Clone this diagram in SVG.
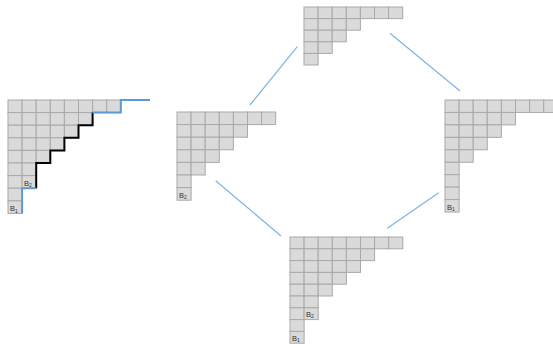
<svg xmlns="http://www.w3.org/2000/svg" width="553" height="344" viewBox="0 0 553 344">
<style>
.c{fill:#dadada;stroke:#a9a9a9;stroke-width:1}
.lbl{font-family:"Liberation Sans",Arial,sans-serif;font-size:7.5px;fill:#333}
.sub{font-size:5px}
.conn{stroke:#7eb3e3;stroke-width:1.2;fill:none}
.bl{stroke:#5b9bd5;stroke-width:2;fill:none}
.bk{stroke:#000;stroke-width:2;fill:none}
</style>
<rect width="553" height="344" fill="#fff"/>
<g id="connectors">
<line class="conn" x1="250" y1="105" x2="297.3" y2="46.7"/>
<line class="conn" x1="390" y1="33.3" x2="460" y2="91"/>
<line class="conn" x1="215.7" y1="180.7" x2="281" y2="236"/>
<line class="conn" x1="387.3" y1="228.3" x2="438.7" y2="192.7"/>
</g>
<g id="top">
<rect class="c" x="304" y="7" width="14.1" height="11.6"/><rect class="c" x="318.1" y="7" width="14.1" height="11.6"/><rect class="c" x="332.2" y="7" width="14.1" height="11.6"/><rect class="c" x="346.3" y="7" width="14.1" height="11.6"/><rect class="c" x="360.4" y="7" width="14.1" height="11.6"/><rect class="c" x="374.5" y="7" width="14.1" height="11.6"/><rect class="c" x="388.6" y="7" width="14.1" height="11.6"/>
<rect class="c" x="304" y="18.6" width="14.1" height="11.6"/><rect class="c" x="318.1" y="18.6" width="14.1" height="11.6"/><rect class="c" x="332.2" y="18.6" width="14.1" height="11.6"/><rect class="c" x="346.3" y="18.6" width="14.1" height="11.6"/>
<rect class="c" x="304" y="30.2" width="14.1" height="11.6"/><rect class="c" x="318.1" y="30.2" width="14.1" height="11.6"/><rect class="c" x="332.2" y="30.2" width="14.1" height="11.6"/>
<rect class="c" x="304" y="41.8" width="14.1" height="11.6"/><rect class="c" x="318.1" y="41.8" width="14.1" height="11.6"/>
<rect class="c" x="304" y="53.4" width="14.1" height="11.6"/>
</g>
<g id="left">
<rect class="c" x="8" y="100" width="14.1" height="12.6"/><rect class="c" x="22.1" y="100" width="14.1" height="12.6"/><rect class="c" x="36.2" y="100" width="14.1" height="12.6"/><rect class="c" x="50.3" y="100" width="14.1" height="12.6"/><rect class="c" x="64.4" y="100" width="14.1" height="12.6"/><rect class="c" x="78.5" y="100" width="14.1" height="12.6"/><rect class="c" x="92.6" y="100" width="14.1" height="12.6"/><rect class="c" x="106.7" y="100" width="14.1" height="12.6"/>
<rect class="c" x="8" y="112.6" width="14.1" height="12.6"/><rect class="c" x="22.1" y="112.6" width="14.1" height="12.6"/><rect class="c" x="36.2" y="112.6" width="14.1" height="12.6"/><rect class="c" x="50.3" y="112.6" width="14.1" height="12.6"/><rect class="c" x="64.4" y="112.6" width="14.1" height="12.6"/><rect class="c" x="78.5" y="112.6" width="14.1" height="12.6"/>
<rect class="c" x="8" y="125.2" width="14.1" height="12.6"/><rect class="c" x="22.1" y="125.2" width="14.1" height="12.6"/><rect class="c" x="36.2" y="125.2" width="14.1" height="12.6"/><rect class="c" x="50.3" y="125.2" width="14.1" height="12.6"/><rect class="c" x="64.4" y="125.2" width="14.1" height="12.6"/>
<rect class="c" x="8" y="137.8" width="14.1" height="12.6"/><rect class="c" x="22.1" y="137.8" width="14.1" height="12.6"/><rect class="c" x="36.2" y="137.8" width="14.1" height="12.6"/><rect class="c" x="50.3" y="137.8" width="14.1" height="12.6"/>
<rect class="c" x="8" y="150.4" width="14.1" height="12.6"/><rect class="c" x="22.1" y="150.4" width="14.1" height="12.6"/><rect class="c" x="36.2" y="150.4" width="14.1" height="12.6"/>
<rect class="c" x="8" y="163" width="14.1" height="12.6"/><rect class="c" x="22.1" y="163" width="14.1" height="12.6"/>
<rect class="c" x="8" y="175.6" width="14.1" height="12.6"/><rect class="c" x="22.1" y="175.6" width="14.1" height="12.6"/>
<rect class="c" x="8" y="188.2" width="14.1" height="12.6"/>
<rect class="c" x="8" y="200.8" width="14.1" height="12.6"/>
<text class="lbl" x="24" y="185.8">B<tspan class="sub" dy="1.5">2</tspan></text>
<text class="lbl" x="10" y="211">B<tspan class="sub" dy="1.5">1</tspan></text>
<path class="bk" d="M92.6,112.6 V125.2 H78.5 V137.8 H64.4 V150.4 H50.3 V163 H36.2 V188.2"/>
<path class="bl" d="M150,100 H120.8 V112.6 H92.6"/>
<path class="bl" d="M36.2,188.2 H22.1 V213.4"/>
</g>
<g id="midleft">
<rect class="c" x="177" y="112" width="14.1" height="12.6"/><rect class="c" x="191.1" y="112" width="14.1" height="12.6"/><rect class="c" x="205.2" y="112" width="14.1" height="12.6"/><rect class="c" x="219.3" y="112" width="14.1" height="12.6"/><rect class="c" x="233.4" y="112" width="14.1" height="12.6"/><rect class="c" x="247.5" y="112" width="14.1" height="12.6"/><rect class="c" x="261.6" y="112" width="14.1" height="12.6"/>
<rect class="c" x="177" y="124.6" width="14.1" height="12.6"/><rect class="c" x="191.1" y="124.6" width="14.1" height="12.6"/><rect class="c" x="205.2" y="124.6" width="14.1" height="12.6"/><rect class="c" x="219.3" y="124.6" width="14.1" height="12.6"/><rect class="c" x="233.4" y="124.6" width="14.1" height="12.6"/>
<rect class="c" x="177" y="137.2" width="14.1" height="12.6"/><rect class="c" x="191.1" y="137.2" width="14.1" height="12.6"/><rect class="c" x="205.2" y="137.2" width="14.1" height="12.6"/><rect class="c" x="219.3" y="137.2" width="14.1" height="12.6"/>
<rect class="c" x="177" y="149.8" width="14.1" height="12.6"/><rect class="c" x="191.1" y="149.8" width="14.1" height="12.6"/><rect class="c" x="205.2" y="149.8" width="14.1" height="12.6"/>
<rect class="c" x="177" y="162.4" width="14.1" height="12.6"/><rect class="c" x="191.1" y="162.4" width="14.1" height="12.6"/>
<rect class="c" x="177" y="175" width="14.1" height="12.6"/>
<rect class="c" x="177" y="187.6" width="14.1" height="12.6"/>
<text class="lbl" x="179" y="197.8">B<tspan class="sub" dy="1.5">2</tspan></text>
</g>
<g id="right">
<rect class="c" x="445" y="100" width="14.1" height="12.45"/><rect class="c" x="459.1" y="100" width="14.1" height="12.45"/><rect class="c" x="473.2" y="100" width="14.1" height="12.45"/><rect class="c" x="487.3" y="100" width="14.1" height="12.45"/><rect class="c" x="501.4" y="100" width="14.1" height="12.45"/><rect class="c" x="515.5" y="100" width="14.1" height="12.45"/><rect class="c" x="529.6" y="100" width="14.1" height="12.45"/><rect class="c" x="543.7" y="100" width="14.1" height="12.45"/>
<rect class="c" x="445" y="112.45" width="14.1" height="12.45"/><rect class="c" x="459.1" y="112.45" width="14.1" height="12.45"/><rect class="c" x="473.2" y="112.45" width="14.1" height="12.45"/><rect class="c" x="487.3" y="112.45" width="14.1" height="12.45"/><rect class="c" x="501.4" y="112.45" width="14.1" height="12.45"/>
<rect class="c" x="445" y="124.9" width="14.1" height="12.45"/><rect class="c" x="459.1" y="124.9" width="14.1" height="12.45"/><rect class="c" x="473.2" y="124.9" width="14.1" height="12.45"/><rect class="c" x="487.3" y="124.9" width="14.1" height="12.45"/>
<rect class="c" x="445" y="137.35" width="14.1" height="12.45"/><rect class="c" x="459.1" y="137.35" width="14.1" height="12.45"/><rect class="c" x="473.2" y="137.35" width="14.1" height="12.45"/>
<rect class="c" x="445" y="149.8" width="14.1" height="12.45"/><rect class="c" x="459.1" y="149.8" width="14.1" height="12.45"/>
<rect class="c" x="445" y="162.25" width="14.1" height="12.45"/>
<rect class="c" x="445" y="174.7" width="14.1" height="12.45"/>
<rect class="c" x="445" y="187.15" width="14.1" height="12.45"/>
<rect class="c" x="445" y="199.6" width="14.1" height="12.45"/>
<text class="lbl" x="447" y="209.6">B<tspan class="sub" dy="1.5">1</tspan></text>
</g>
<g id="bottom">
<rect class="c" x="290" y="237" width="14.1" height="11.8"/><rect class="c" x="304.1" y="237" width="14.1" height="11.8"/><rect class="c" x="318.2" y="237" width="14.1" height="11.8"/><rect class="c" x="332.3" y="237" width="14.1" height="11.8"/><rect class="c" x="346.4" y="237" width="14.1" height="11.8"/><rect class="c" x="360.5" y="237" width="14.1" height="11.8"/><rect class="c" x="374.6" y="237" width="14.1" height="11.8"/><rect class="c" x="388.7" y="237" width="14.1" height="11.8"/>
<rect class="c" x="290" y="248.8" width="14.1" height="11.8"/><rect class="c" x="304.1" y="248.8" width="14.1" height="11.8"/><rect class="c" x="318.2" y="248.8" width="14.1" height="11.8"/><rect class="c" x="332.3" y="248.8" width="14.1" height="11.8"/><rect class="c" x="346.4" y="248.8" width="14.1" height="11.8"/><rect class="c" x="360.5" y="248.8" width="14.1" height="11.8"/>
<rect class="c" x="290" y="260.6" width="14.1" height="11.8"/><rect class="c" x="304.1" y="260.6" width="14.1" height="11.8"/><rect class="c" x="318.2" y="260.6" width="14.1" height="11.8"/><rect class="c" x="332.3" y="260.6" width="14.1" height="11.8"/><rect class="c" x="346.4" y="260.6" width="14.1" height="11.8"/>
<rect class="c" x="290" y="272.4" width="14.1" height="11.8"/><rect class="c" x="304.1" y="272.4" width="14.1" height="11.8"/><rect class="c" x="318.2" y="272.4" width="14.1" height="11.8"/><rect class="c" x="332.3" y="272.4" width="14.1" height="11.8"/>
<rect class="c" x="290" y="284.2" width="14.1" height="11.8"/><rect class="c" x="304.1" y="284.2" width="14.1" height="11.8"/><rect class="c" x="318.2" y="284.2" width="14.1" height="11.8"/>
<rect class="c" x="290" y="296" width="14.1" height="11.8"/><rect class="c" x="304.1" y="296" width="14.1" height="11.8"/>
<rect class="c" x="290" y="307.8" width="14.1" height="11.8"/><rect class="c" x="304.1" y="307.8" width="14.1" height="11.8"/>
<rect class="c" x="290" y="319.6" width="14.1" height="11.8"/>
<rect class="c" x="290" y="331.4" width="14.1" height="11.8"/>
<text class="lbl" x="306" y="316.8">B<tspan class="sub" dy="1.5">2</tspan></text>
<text class="lbl" x="292" y="340.6">B<tspan class="sub" dy="1.5">1</tspan></text>
</g>
</svg>
